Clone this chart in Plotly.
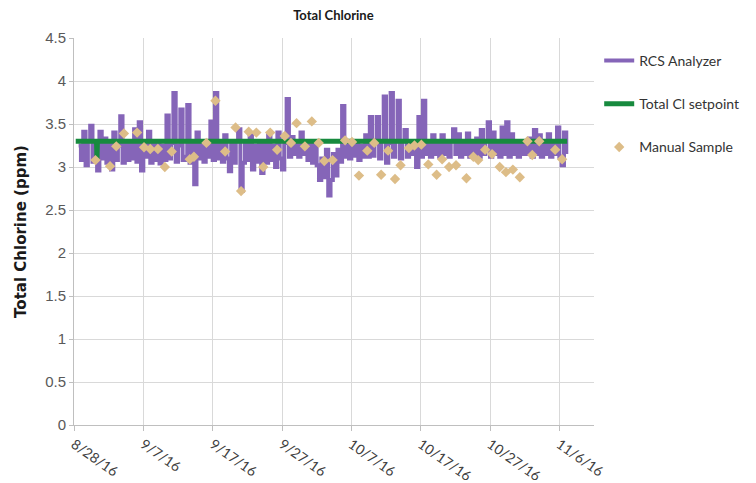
import pandas as pd
import plotly.graph_objects as go

START = pd.Timestamp("2016-08-28")

# X axis ticks
tick_dates = ["2016-08-28", "2016-09-07", "2016-09-17", "2016-09-27",
              "2016-10-07", "2016-10-17", "2016-10-27", "2016-11-06"]
tick_labels = ["8/28/16", "9/7/16", "9/17/16", "9/27/16",
               "10/7/16", "10/17/16", "10/27/16", "11/6/16"]

# RCS Analyzer readings, every 8 hours starting 8/28/16 16:00 (ppm)
rcs_start = "2016-08-28 16:00"
rcs_values = [
    3.25,
    3.08, 3.41, 3.02,   # day 1
    3.30, 3.48, 3.06,
    3.25, 2.96, 3.41,
    3.10, 3.33, 3.05,
    3.28, 2.97, 3.40,   # day 5
    3.08, 3.25, 3.59,
    3.05, 3.30, 3.08,
    3.28, 3.10, 3.44,
    3.06, 3.52, 2.96,
    3.30, 3.12, 3.41,   # day 10
    3.05, 3.28, 3.08,
    3.30, 3.04, 3.25,
    3.08, 3.60, 3.10,
    3.28, 3.86, 3.06,
    3.25, 3.67, 3.08,   # day 15
    3.12, 3.72, 3.05,
    3.28, 2.80, 3.40,
    3.10, 3.30, 3.06,
    3.28, 3.12, 3.53,
    3.08, 3.86, 3.10,   # day 20
    3.30, 3.06, 3.37,
    3.10, 2.95, 3.28,
    3.05, 3.30, 3.44,
    2.72, 3.05, 3.28,
    3.08, 3.37, 2.97,   # day 25
    3.25, 3.06, 3.30,
    2.93, 3.28, 3.05,
    3.37, 3.08, 3.25,
    3.00, 3.40, 3.10,
    2.97, 3.28, 3.79,   # day 30
    3.12, 3.35, 3.15,
    3.30, 3.12, 3.40,
    3.15, 3.28, 3.08,
    3.30, 3.05, 3.25,
    3.02, 2.85, 3.10,   # day 35
    2.88, 3.20, 2.67,
    2.85, 3.15, 2.90,
    3.20, 3.06, 3.71,
    3.12, 3.30, 3.10,
    3.28, 3.13, 3.30,   # day 40
    3.08, 3.25, 3.12,
    3.37, 3.12, 3.58,
    3.13, 3.28, 3.58,
    3.10, 3.30, 3.82,
    3.05, 3.28, 3.86,   # day 45
    3.12, 3.30, 3.77,
    3.10, 3.30, 3.43,
    3.12, 3.30, 3.15,
    3.28, 3.00, 3.58,
    3.12, 3.77, 3.15,   # day 50
    3.30, 3.12, 3.37,
    3.15, 3.30, 3.12,
    3.37, 3.15, 3.30,
    3.12, 3.30, 3.44,
    3.15, 3.38, 3.12,   # day 55
    3.30, 3.15, 3.39,
    3.12, 3.30, 3.15,
    3.33, 3.12, 3.43,
    3.15, 3.30, 3.52,
    3.12, 3.40, 3.15,   # day 60
    3.30, 3.12, 3.46,
    3.15, 3.52, 3.12,
    3.38, 3.15, 3.30,
    3.12, 3.30, 3.15,
    3.30, 3.15, 3.33,   # day 65
    3.12, 3.43, 3.15,
    3.37, 3.12, 3.30,
    3.15, 3.38, 3.12,
    3.30, 3.15, 3.46,
    3.12, 3.02, 3.40,   # day 70
    3.15,
]

# Total Cl setpoint
setpoint_times = ["2016-08-28 06:00", "2016-08-31 06:00", "2016-08-31 07:30",
                  "2016-08-31 09:00", "2016-11-07 03:00"]
setpoint_values = [3.3, 3.3, 3.08, 3.3, 3.3]

# Manual samples: days after 8/28/16 and value (ppm)
manual_day = [3.1, 5.2, 6.1, 7.2, 9.1, 10.1, 11.0, 12.1, 13.1, 14.1,
              16.7, 17.3, 19.1, 20.4, 21.8, 23.3, 24.1, 25.2, 26.3, 27.3,
              28.3, 29.3, 30.4, 31.3, 32.1, 33.3, 34.3, 35.3, 36.1, 37.3,
              39.1, 40.1, 41.1, 42.3, 43.3, 44.3, 45.3, 46.3, 47.1, 48.3,
              49.1, 50.1, 51.1, 52.3, 53.1, 54.1, 55.1, 56.6, 57.6, 58.3,
              59.3, 60.3, 61.4, 62.3, 63.3, 64.3, 65.4, 66.1, 67.1, 69.4,
              70.4]
manual_values = [3.08, 3.01, 3.24, 3.39, 3.40, 3.23, 3.21, 3.21, 3.00, 3.18,
                 3.09, 3.12, 3.28, 3.77, 3.18, 3.46, 2.72, 3.41, 3.40, 3.00,
                 3.40, 3.20, 3.36, 3.28, 3.51, 3.24, 3.53, 3.28, 3.07, 3.08,
                 3.31, 3.29, 2.90, 3.19, 3.28, 2.91, 3.19, 2.86, 3.02, 3.22,
                 3.25, 3.26, 3.03, 2.91, 3.09, 3.00, 3.02, 2.87, 3.12, 3.08,
                 3.20, 3.15, 3.00, 2.94, 2.97, 2.88, 3.30, 3.14, 3.30, 3.20,
                 3.09]

rcs_times = pd.date_range(rcs_start, periods=len(rcs_values), freq="8h")
manual_times = START + pd.to_timedelta(manual_day, unit="D")

PURPLE = "#8565B8"
GREEN = "#178A3E"
TAN = "#DDBD88"

fig = go.Figure()
fig.add_trace(go.Scatter(x=rcs_times, y=rcs_values, mode="lines", name="RCS Analyzer",
                         line=dict(color=PURPLE, width=4, shape="hv"), legendgroup="a"))
fig.add_trace(go.Scatter(x=pd.to_datetime(setpoint_times), y=setpoint_values, mode="lines",
                         name="Total Cl setpoint", line=dict(color=GREEN, width=5),
                         legendgroup="b"))
fig.add_trace(go.Scatter(x=manual_times, y=manual_values, mode="markers", name="Manual Sample",
                         marker=dict(symbol="diamond", size=8, color=TAN), legendgroup="c"))

# the page body adds an 8px offset, so the figure is 8px smaller on each axis
fig.update_layout(
    width=748, height=475,
    margin=dict(l=66, r=158, t=30, b=58),
    paper_bgcolor="white", plot_bgcolor="white",
    title=dict(text="<b>Total Chlorine</b>", x=0.435, xanchor="center", y=0.984, yanchor="middle",
               font=dict(family="Lato", size=13, color="#1a1a1a")),
    legend=dict(x=1.01, xanchor="left", y=0.982, yanchor="top", tracegroupgap=22,
                itemwidth=30, font=dict(family="Lato", size=14, color="#333333"),
                bgcolor="rgba(0,0,0,0)"),
    showlegend=True,
)
fig.update_xaxes(
    type="date", range=["2016-08-28", "2016-11-11"], automargin=False,
    tickmode="array", tickvals=pd.to_datetime(tick_dates), ticktext=tick_labels,
    tickangle=35, tickfont=dict(family="Lato", size=14, color="#404040"),
    showgrid=True, gridcolor="#D9D9D9", gridwidth=1,
    showline=True, linecolor="#BFBFBF", linewidth=1,
    ticks="outside", ticklen=5, tickcolor="#BFBFBF", zeroline=False,
)
fig.update_yaxes(
    range=[0, 4.5], dtick=0.5, tick0=0, automargin=False,
    tickfont=dict(family="Liberation Sans", size=15, color="#595959"),
    title=dict(text="<b>Total Chlorine (ppm)</b>",
               font=dict(family="DejaVu Sans", size=15, color="#1a1a1a"),
               standoff=14),
    showgrid=True, gridcolor="#D9D9D9", gridwidth=1,
    showline=True, linecolor="#BFBFBF", linewidth=1,
    ticks="outside", ticklen=4, tickcolor="#BFBFBF", zeroline=False,
)

fig.write_html("out.html")
